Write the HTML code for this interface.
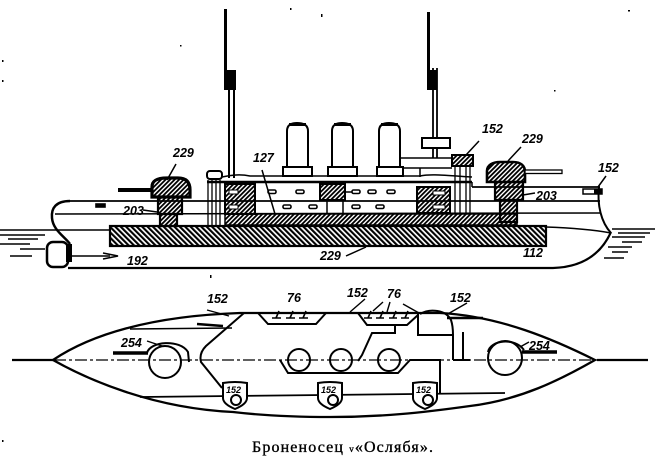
<!DOCTYPE html>
<html><head><meta charset="utf-8"><style>
html,body{margin:0;padding:0;background:#fff;}
svg{display:block;}
.l{font-family:"Liberation Sans",sans-serif;font-style:italic;font-weight:bold;font-size:12.5px;fill:#000;stroke:none;}
.s{font-family:"Liberation Sans",sans-serif;font-style:italic;font-weight:bold;font-size:9px;fill:#000;stroke:none;}
</style></head><body>
<svg width="657" height="462" viewBox="0 0 657 462" xmlns="http://www.w3.org/2000/svg">
<defs>
<pattern id="fw" width="3.2" height="3.2" patternUnits="userSpaceOnUse" patternTransform="rotate(45)"><rect width="1.8" height="3.2" fill="#000"/></pattern>
<pattern id="bw" width="3.8" height="3.8" patternUnits="userSpaceOnUse" patternTransform="rotate(-45)"><rect width="2.1" height="3.8" fill="#000"/></pattern>
</defs>

<!-- ================= SIDE VIEW ================= -->
<g fill="none" stroke="#000" stroke-width="1.5">
<rect x="224" y="9" width="3" height="81" fill="#000" stroke="none"/>
<rect x="224" y="70" width="12" height="20" fill="#000" stroke="none"/>
<line x1="229" y1="70" x2="229" y2="178" stroke-width="2"/>
<line x1="234" y1="70" x2="234" y2="178" stroke-width="2"/>
<rect x="427" y="12" width="3" height="78" fill="#000" stroke="none"/>
<rect x="427" y="70" width="10" height="20" fill="#000" stroke="none"/>
<line x1="433" y1="68" x2="433" y2="158" stroke-width="1.8"/>
<line x1="437" y1="68" x2="437" y2="158" stroke-width="1.8"/>

<path d="M400,158 H452 M403,168 H452 M420,168 V177" />
<rect x="422" y="138" width="28" height="10" stroke-width="2" fill="#fff"/>

<path d="M287,167 V131 Q287,123 297,123 Q308,123 308,131 V167" stroke-width="2" fill="#fff"/>
<line x1="289" y1="124.5" x2="306" y2="124.5" stroke-width="3"/>
<rect x="283" y="167" width="29" height="9" stroke-width="2" fill="#fff"/>
<path d="M332,167 V131 Q332,123 342,123 Q353,123 353,131 V167" stroke-width="2" fill="#fff"/>
<line x1="334" y1="124.5" x2="351" y2="124.5" stroke-width="3"/>
<rect x="328" y="167" width="29" height="9" stroke-width="2" fill="#fff"/>
<path d="M379,167 V131 Q379,123 389,123 Q400,123 400,131 V167" stroke-width="2" fill="#fff"/>
<line x1="381" y1="124.5" x2="398" y2="124.5" stroke-width="3"/>
<rect x="377" y="167" width="26" height="9" stroke-width="2" fill="#fff"/>

<rect x="207" y="171" width="15" height="8" rx="3" stroke-width="2" fill="#fff"/>
<path d="M222,177 C232,175 240,174 250,176 H420 C430,174 440,175 472,177" stroke-width="1.5"/>
<line x1="207" y1="182" x2="472" y2="182" stroke-width="2.6"/>
<path d="M472,182 V187" stroke-width="1.5"/>
<path d="M208,180 V226 M212,180 V226 M216,180 V226 M220,180 V226" stroke-width="1.3"/>

<rect x="452" y="155" width="21" height="11" fill="url(#fw)" stroke-width="2"/>
<path d="M455,166 V213 M460,166 V213 M466,166 V213 M470,166 V213" stroke-width="1.3"/>

<line x1="472" y1="187" x2="600" y2="187" stroke-width="1.8"/>
<line x1="68" y1="201" x2="600" y2="201" stroke-width="1.8"/>
<line x1="55" y1="214" x2="600" y2="213" stroke-width="1.5"/>

<rect x="225" y="184" width="30" height="30" fill="url(#fw)" stroke-width="2"/>
<rect x="229" y="190" width="9" height="4" fill="#fff" stroke-width="1"/>
<rect x="229" y="205" width="9" height="4" fill="#fff" stroke-width="1"/>
<rect x="320" y="184" width="25" height="16" fill="url(#fw)" stroke-width="2"/>
<path d="M327,201 V214 M343,201 V214" stroke-width="1.5"/>
<rect x="417" y="187" width="33" height="26" fill="url(#fw)" stroke-width="2"/>
<rect x="433" y="191" width="12" height="4" fill="#fff" stroke-width="1"/>
<rect x="433" y="205" width="12" height="4" fill="#fff" stroke-width="1"/>

<g stroke-width="1.6" fill="#fff">
<rect x="268" y="190" width="8" height="3.5" rx="1.5"/>
<rect x="296" y="190" width="8" height="3.5" rx="1.5"/>
<rect x="352" y="190" width="8" height="3.5" rx="1.5"/>
<rect x="368" y="190" width="8" height="3.5" rx="1.5"/>
<rect x="387" y="190" width="8" height="3.5" rx="1.5"/>
<rect x="283" y="205" width="8" height="3.5" rx="1.5"/>
<rect x="309" y="205" width="8" height="3.5" rx="1.5"/>
<rect x="352" y="205" width="8" height="3.5" rx="1.5"/>
<rect x="376" y="205" width="8" height="3.5" rx="1.5"/>
<rect x="96" y="204" width="9" height="3" fill="#000"/>
</g>
<line x1="345" y1="192" x2="352" y2="192" stroke-width="1.5"/>

<rect x="225" y="214" width="292" height="11" fill="url(#fw)" stroke-width="1.5"/>
<rect x="110" y="226" width="436" height="20" fill="url(#bw)" stroke-width="2.2"/>

<rect x="158" y="197" width="24" height="17" fill="url(#fw)" stroke-width="2.2"/>
<rect x="160" y="214" width="17" height="12" fill="url(#fw)" stroke-width="2.2"/>
<path d="M152,197 V187 C152,180 158,178 167,178 H178 C187,178 190,183 190,190 V197 Z" fill="url(#fw)" stroke-width="3.2"/>
<rect x="118" y="188" width="35" height="4" fill="#000" stroke="none"/>
<rect x="495" y="182" width="28" height="18" fill="url(#fw)" stroke-width="2.2"/>
<rect x="500" y="200" width="17" height="22" fill="url(#fw)" stroke-width="2.2"/>
<path d="M487,182 V171 C487,165 493,162 500,162 H513 C521,162 525,166 525,172 V182 Z" fill="url(#fw)" stroke-width="2.6"/>
<rect x="525" y="170" width="37" height="3.5" fill="#fff" stroke-width="1.3"/>

<path d="M70,201 C56,201 51,208 52,218 C53,230 64,236 70,244" stroke-width="2.5"/>
<line x1="0" y1="230" x2="110" y2="230" stroke-width="1.5"/>
<rect x="47" y="242" width="21" height="25" rx="6" stroke-width="2.5"/>
<rect x="66" y="244" width="6" height="18" fill="#000" stroke="none"/>
<path d="M72,256 H110" stroke-width="1.6"/>
<path d="M103,253 L118,256 L103,259" stroke-width="1.6"/>
<path d="M68,268 H553 C585,267 602,252 611,232" stroke-width="2.2"/>

<path d="M599,187 C597,205 601,222 611,233" stroke-width="2"/>
<path d="M546,227 C575,228 595,230 611,233" stroke-width="1.5"/>
<rect x="583" y="189" width="19" height="5" fill="#fff" stroke-width="1.5"/>
<rect x="594" y="189" width="8" height="5" fill="#000" stroke="none"/>

<g stroke-width="1.5">
<path d="M0,235 H45 M8,239 H38 M0,244 H30 M20,249 H45 M10,256 H32"/>
<path d="M612,229 H655 M618,233 H650 M612,237 H645 M622,242 H642 M608,247 H632 M612,252 H628 M604,258 H624"/>
</g>

<path d="M167,180 L176,164 M143,210 L157,212 M262,170 L275,214 M346,256 L366,247 M479,141 L466,155 M508,161 L521,147 M523,195 L535,193 M606,176 L598,187"/>
</g>

<g>
<text class="l" x="173" y="157">229</text>
<text class="l" x="253" y="162">127</text>
<text class="l" x="123" y="215">203</text>
<text class="l" x="127" y="265">192</text>
<text class="l" x="320" y="260">229</text>
<text class="l" x="482" y="133">152</text>
<text class="l" x="522" y="143">229</text>
<text class="l" x="536" y="200">203</text>
<text class="l" x="598" y="172">152</text>
<text class="l" x="523" y="257">112</text>
</g>

<!-- ================= PLAN VIEW ================= -->
<g fill="none" stroke="#000" stroke-width="2">
<line x1="12" y1="360" x2="648" y2="360" stroke-width="1.3" stroke-dasharray="12 3 3 3"/>
<line x1="12" y1="360" x2="53" y2="360" stroke-width="2.2"/>
<line x1="597" y1="360" x2="648" y2="360" stroke-width="2.2"/>
<path d="M53,360 C90,335 150,316 240,313 L440,313 C500,316 555,340 595,360 C560,380 520,400 470,406 C420,413 380,417 330,417 C280,417 250,414 233,412 C150,408 85,378 53,360 Z" stroke-width="2.3"/>
<path d="M130,329 L232,328" stroke-width="1.6"/>
<path d="M140,397 L505,393" stroke-width="1.8"/>
<path d="M244,313 L206,346 C200,352 200,358 201,362 L222,388"/>
<path d="M258,313 L268,324 H316 L326,313"/>
<path d="M358,313 L367,325 H407 L418,315"/>
<path d="M395,325 V333 H372 L362,355 L358,361"/>
<path d="M280,360 L288,373 H398 L410,360 H440 V394"/>
<path d="M418,313 V335 H453 V360 M463,332 V360"/>
<path d="M420,314 C430,308 446,310 451,320 C453,326 453,332 453,335"/>
<line x1="453" y1="360" x2="470" y2="360"/>
<g stroke-width="1.6">
<path d="M272,318 H281 M276,318 L279,311"/>
<path d="M286,318 H295 M290,318 L293,311"/>
<path d="M299,318 H308 M303,318 L306,311"/>
<path d="M364,318 H372 M368,318 L371,311"/>
<path d="M376,318 H384 M380,318 L383,311"/>
<path d="M389,318 H397 M393,318 L396,311"/>
<path d="M401,318 H409 M405,318 L408,311"/>
</g>
<circle cx="299" cy="360" r="11"/>
<circle cx="341" cy="360" r="11"/>
<circle cx="389" cy="360" r="11"/>
<circle cx="165" cy="362" r="16"/>
<path d="M147,353 C150,341 180,339 188,352 L189,362"/>
<line x1="113" y1="353" x2="148" y2="353" stroke-width="3.5"/>
<circle cx="505" cy="358" r="17"/>
<path d="M488,352 C490,340 515,337 524,350"/>
<line x1="522" y1="352" x2="557" y2="352" stroke-width="3.5"/>
<line x1="197" y1="324" x2="223" y2="326" stroke-width="2.6"/>
<line x1="447" y1="318" x2="483" y2="318" stroke-width="2.6"/>
<path d="M223,383 Q235,381 247,383 V398 Q247,404 235,409 Q223,404 223,398 Z" fill="#fff"/>
<circle cx="236" cy="400" r="5"/>
<path d="M318,383 Q330,381 342,383 V398 Q342,404 330,409 Q318,404 318,398 Z" fill="#fff"/>
<circle cx="333" cy="400" r="5"/>
<path d="M413,383 Q425,381 437,383 V398 Q437,404 425,409 Q413,404 413,398 Z" fill="#fff"/>
<circle cx="428" cy="400" r="5"/>
<g stroke-width="1.4">
<path d="M207,310 L229,316"/>
<path d="M365,299 L350,312"/>
<path d="M383,302 L373,311 M390,302 L387,312"/>
<path d="M403,304 L419,313"/>
<path d="M467,303 L446,315"/>
<path d="M147,341 L162,346"/>
<path d="M520,347 L529,342"/>
</g>
</g>

<g>
<text class="l" x="207" y="303">152</text>
<text class="l" x="287" y="302">76</text>
<text class="l" x="347" y="297">152</text>
<text class="l" x="387" y="298">76</text>
<text class="l" x="450" y="302">152</text>
<text class="l" x="121" y="347">254</text>
<text class="l" x="529" y="350">254</text>
<text class="s" x="226" y="393">152</text>
<text class="s" x="321" y="393">152</text>
<text class="s" x="416" y="393">152</text>
</g>

<text x="252" y="452" font-family="'Liberation Serif', 'Noto Serif CJK SC', serif" font-size="16" fill="#000" stroke="#000" stroke-width="0.35" textLength="181" lengthAdjust="spacing">Броненосец <tspan font-size="9">v</tspan>«Ослябя».</text>

<g fill="#000">
<rect x="2" y="60" width="1.5" height="2"/>
<rect x="2" y="80" width="1.5" height="2"/>
<rect x="180" y="45" width="1.5" height="1.5"/>
<rect x="290" y="8" width="1.5" height="2"/>
<rect x="321" y="14" width="1.5" height="3"/>
<rect x="628" y="10" width="2" height="1.5"/>
<rect x="554" y="90" width="1.5" height="1.5"/>
<rect x="2" y="440" width="1.5" height="2"/>
<rect x="210" y="275" width="1.5" height="3"/>
</g>
</svg>
</body></html>
